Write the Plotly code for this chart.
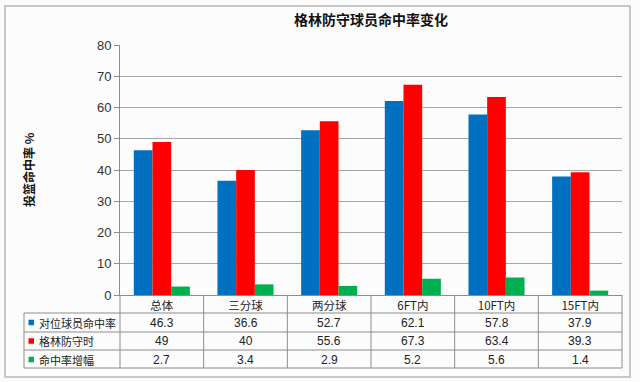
import plotly.graph_objects as go

categories = ["总体", "三分球", "两分球", "6FT内", "10FT内", "15FT内"]
series_names = ["对位球员命中率", "格林防守时", "命中率增幅"]
opp_rate = [46.3, 36.6, 52.7, 62.1, 57.8, 37.9]
green_def = [49, 40, 55.6, 67.3, 63.4, 39.3]
increase = [2.7, 3.4, 2.9, 5.2, 5.6, 1.4]
colors = ["#0070C0", "#FF0000", "#00B050"]
y_ticks = [0, 10, 20, 30, 40, 50, 60, 70, 80]

series_values = [opp_rate, green_def, increase]

FONT = "Liberation Sans, Noto Sans CJK SC, sans-serif"
CJK = "Noto Sans CJK SC, sans-serif"

fig = go.Figure()
for name, vals, col in zip(series_names, series_values, colors):
    fig.add_trace(go.Bar(x=categories, y=vals, name=name, marker=dict(color=col, line=dict(width=0)),
                         showlegend=False, hoverinfo="x+y+name"))

W, H = 640, 382
L, R, T, B = 120, 18, 45, 87
pw, ph = W - L - R, H - T - B

def py(p):
    return (H - B - p) / ph

def px(p):
    return (p - L) / pw

shapes = []
annotations = []
line_col = "#8c8c8c"

# outer frame
shapes.append(dict(type="rect", xref="paper", yref="paper", x0=px(5), x1=px(630), y0=py(377), y1=py(6),
                   line=dict(color="#c8c8c8", width=2), layer="below"))

# table rows (horizontal lines)
row_lines = [313, 332, 350, 368]
for rl in row_lines:
    shapes.append(dict(type="line", xref="paper", yref="paper", x0=px(24), x1=1, y0=py(rl), y1=py(rl),
                       line=dict(color=line_col, width=1)))
# left column border
shapes.append(dict(type="line", xref="paper", yref="paper", x0=px(24), x1=px(24), y0=py(313), y1=py(368),
                   line=dict(color=line_col, width=1)))
# category separators
for i in range(len(categories) + 1):
    xpos = i / len(categories)
    shapes.append(dict(type="line", xref="paper", yref="paper", x0=xpos, x1=xpos, y0=py(295), y1=py(368),
                       line=dict(color=line_col, width=1)))

# table contents
row_centers = [322.5, 341, 359.5]
for r, (name, vals, col) in enumerate(zip(series_names, series_values, colors)):
    yc = py(row_centers[r])
    shapes.append(dict(type="rect", xref="paper", yref="paper", x0=px(28.5), x1=px(34), y0=yc - 2.75 / ph,
                       y1=yc + 2.75 / ph, fillcolor=col, line=dict(width=0)))
    annotations.append(dict(xref="paper", yref="paper", x=px(37), y=yc, text=name, showarrow=False,
                            xanchor="left", yanchor="middle", font=dict(family=CJK, size=11, color="#222")))
    for c, v in zip(categories, vals):
        annotations.append(dict(xref="x", yref="paper", x=c, y=yc, text=f"{v:g}", showarrow=False,
                                xanchor="center", yanchor="middle", font=dict(family=FONT, size=12, color="#222")))

# y-axis title
annotations.append(dict(xref="paper", yref="paper", x=px(28), y=py(170), text="<b>投篮命中率 %</b>",
                        textangle=-90, showarrow=False, xanchor="center", yanchor="middle",
                        font=dict(family=CJK, size=12, color="#111")))

fig.update_layout(
    width=W, height=H,
    margin=dict(l=L, r=R, t=T, b=B, autoexpand=False),
    paper_bgcolor="#fcfcfc", plot_bgcolor="#fcfcfc",
    barmode="group", bargap=0.33, bargroupgap=0,
    title=dict(text="<b>格林防守球员命中率变化</b>", x=0.5, xref="paper", xanchor="center",
               y=1 - 20 / H, yanchor="middle", font=dict(family=CJK, size=14, color="#111")),
    shapes=shapes, annotations=annotations,
    xaxis=dict(showgrid=False, showline=True, linecolor=line_col, linewidth=1, ticks="",
               tickfont=dict(family=CJK, size=11.5, color="#222"), fixedrange=True),
    yaxis=dict(range=[0, 80], tickvals=y_ticks, showgrid=True, gridcolor="#a6a6a6", gridwidth=1,
               showline=True, linecolor=line_col, linewidth=1, ticks="outside", ticklen=5,
               tickcolor=line_col, tickfont=dict(family=FONT, size=13, color="#333"),
               zeroline=False, fixedrange=True),
)

fig.write_html("out.html", config={"displayModeBar": False},
               post_script="document.body.style.margin='0';document.body.style.overflow='hidden';")
